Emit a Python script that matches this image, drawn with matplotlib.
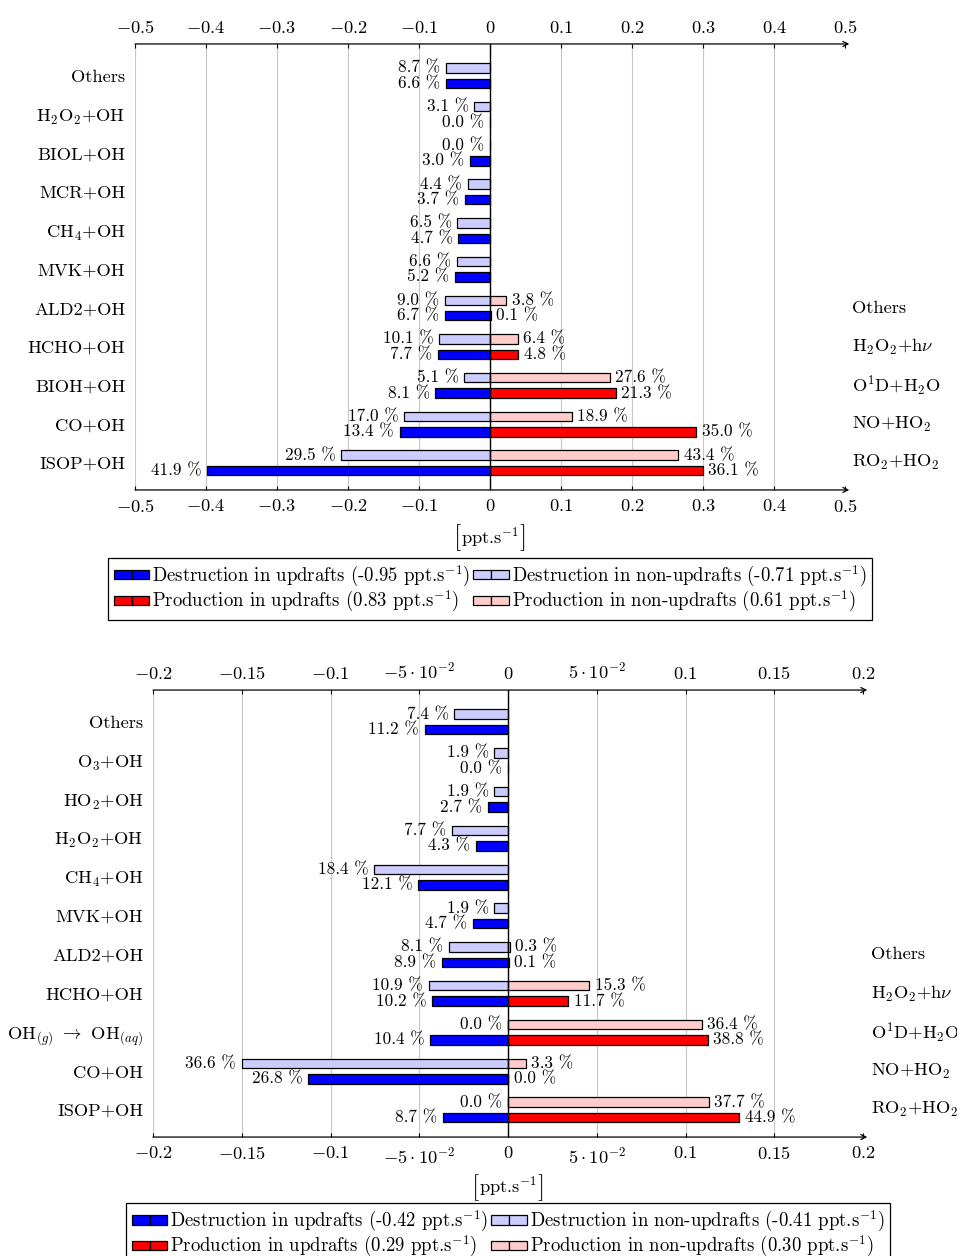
import numpy as np
import matplotlib.pyplot as plt
from matplotlib.patches import Rectangle
from matplotlib.legend_handler import HandlerTuple

plt.rcParams['font.family'] = ['cmr10', 'DejaVu Serif']
plt.rcParams['mathtext.fontset'] = 'cm'
plt.rcParams['font.size'] = 13.3

BLUE = '#0000ff'
LBLUE = '#ccccff'
RED = '#ff0000'
LRED = '#ffcccc'

# --- upper panel: OH budget, percentages of each total ---
top_loss_names = ['Others', 'H$_2$O$_2$+OH', 'BIOL+OH', 'MCR+OH', 'CH$_4$+OH',
                  'MVK+OH', 'ALD2+OH', 'HCHO+OH', 'BIOH+OH', 'CO+OH', 'ISOP+OH']
top_prod_names = ['Others', 'H$_2$O$_2$+h$\\nu$', 'O$^1$D+H$_2$O', 'NO+HO$_2$', 'RO$_2$+HO$_2$']
top_loss_non = [8.7, 3.1, 0.0, 4.4, 6.5, 6.6, 9.0, 10.1, 5.1, 17.0, 29.5]
top_loss_up = [6.6, 0.0, 3.0, 3.7, 4.7, 5.2, 6.7, 7.7, 8.1, 13.4, 41.9]
top_prod_non = [3.8, 6.4, 27.6, 18.9, 43.4]
top_prod_up = [0.1, 4.8, 21.3, 35.0, 36.1]
# totals: loss updrafts, loss non-updrafts, prod updrafts, prod non-updrafts
top_totals = [-0.95, -0.71, 0.83, 0.61]
top_ticks = [-0.5, -0.4, -0.3, -0.2, -0.1, 0, 0.1, 0.2, 0.3, 0.4, 0.5]
top_ticklabels = ['$-0.5$', '$-0.4$', '$-0.3$', '$-0.2$', '$-0.1$', '$0$',
                  '$0.1$', '$0.2$', '$0.3$', '$0.4$', '$0.5$']

# --- lower panel ---
bot_loss_names = ['Others', 'O$_3$+OH', 'HO$_2$+OH', 'H$_2$O$_2$+OH', 'CH$_4$+OH',
                  'MVK+OH', 'ALD2+OH', 'HCHO+OH',
                  'OH$_{(g)}$ $\\rightarrow$ OH$_{(aq)}$', 'CO+OH', 'ISOP+OH']
bot_prod_names = ['Others', 'H$_2$O$_2$+h$\\nu$', 'O$^1$D+H$_2$O', 'NO+HO$_2$', 'RO$_2$+HO$_2$']
bot_loss_non = [7.4, 1.9, 1.9, 7.7, 18.4, 1.9, 8.1, 10.9, 0.0, 36.6, 0.0]
bot_loss_up = [11.2, 0.0, 2.7, 4.3, 12.1, 4.7, 8.9, 10.2, 10.4, 26.8, 8.7]
bot_prod_non = [0.3, 15.3, 36.4, 3.3, 37.7]
bot_prod_up = [0.1, 11.7, 38.8, 0.0, 44.9]
bot_totals = [-0.42, -0.41, 0.29, 0.30]
bot_ticks = [-0.2, -0.15, -0.1, -0.05, 0, 0.05, 0.1, 0.15, 0.2]
bot_ticklabels = ['$-0.2$', '$-0.15$', '$-0.1$', '$-5\\cdot10^{-2}$', '$0$',
                  '$5\\cdot10^{-2}$', '$0.1$', '$0.15$', '$0.2$']


def panel(ax, loss_names, prod_names, loss_non, loss_up, prod_non, prod_up,
          totals, ticks, ticklabels, right_pad):
    n = len(loss_names)
    y = np.arange(n)
    yp = y[n - len(prod_names):]
    off, h = 0.2, 0.245

    series = [
        (y + off, np.array(loss_up), totals[0], BLUE, -1),
        (y - off, np.array(loss_non), totals[1], LBLUE, -1),
        (yp + off, np.array(prod_up), totals[2], RED, 1),
        (yp - off, np.array(prod_non), totals[3], LRED, 1),
    ]
    handles = []
    for pos, pct, tot, col, side in series:
        vals = pct / 100 * abs(tot) * side
        ax.barh(pos, vals, height=h, color=col, edgecolor='black', lw=0.9, zorder=2)
        for yy, v, p in zip(pos, vals, pct):
            ax.annotate(f'{p:.1f} %', (v, yy), xytext=(4 * side, 0),
                        textcoords='offset points', ha='left' if side > 0 else 'right',
                        va='center', fontsize=12.4)
        handles.append((Rectangle((0, 0), 1, 1, fc=col, ec='black', lw=0.9),
                        Rectangle((0, 0), 1, 1, fc=col, ec='black', lw=0.9)))

    lim = ticks[-1]
    ax.set_xlim(-lim, lim)
    ax.set_ylim(n - 1 + 0.70, -0.82)
    ax.set_xticks(ticks, ticklabels)
    ax.grid(axis='x', color='#c8c8c8', lw=0.8)
    ax.set_axisbelow(True)
    ax.axvline(0, color='black', lw=1.0, zorder=3)
    for s in ax.spines.values():
        s.set_visible(False)
    for yy in (0, 1):
        ax.annotate('', xy=(1.006, yy), xytext=(0, yy), xycoords='axes fraction',
                    arrowprops=dict(arrowstyle='->', lw=0.9, color='black',
                                    shrinkA=0, shrinkB=0, mutation_scale=9))
    ax.tick_params(axis='x', direction='in', top=True, bottom=True,
                   labeltop=True, labelbottom=True, length=3, width=0.8, pad=6)
    ax.set_yticks(y, loss_names)
    ax.tick_params(axis='y', length=0, pad=7)
    for yy, name in zip(yp, prod_names):
        ax.text(1 + right_pad, yy, name, transform=ax.get_yaxis_transform(),
                ha='left', va='center')

    return handles


fig = plt.figure(figsize=(9.57, 12.56), dpi=100)
ax1 = fig.add_axes([0.1411, 0.6099, 0.7419, 0.3551])
ax2 = fig.add_axes([0.1599, 0.0947, 0.7419, 0.3559])

for ax, data, ypos, rp, legy in [
    (ax1, (top_loss_names, top_prod_names, top_loss_non, top_loss_up, top_prod_non,
           top_prod_up, top_totals, top_ticks, top_ticklabels), -0.105, 0.010, -0.152),
    (ax2, (bot_loss_names, bot_prod_names, bot_loss_non, bot_loss_up, bot_prod_non,
           bot_prod_up, bot_totals, bot_ticks, bot_ticklabels), -0.110, 0.011, -0.148),
]:
    hs = panel(ax, *data, right_pad=rp)
    tot = data[6]
    labels = [
        f'Destruction in updrafts ({tot[0]:.2f} ppt.s$^{{-1}}$)',
        f'Production in updrafts ({tot[2]:.2f} ppt.s$^{{-1}}$)',
        f'Destruction in non-updrafts ({tot[1]:.2f} ppt.s$^{{-1}}$)',
        f'Production in non-updrafts ({tot[3]:.2f} ppt.s$^{{-1}}$)',
    ]
    # axis unit with tall brackets
    unit = ax.text(0.5, ypos, 'ppt.s$^{-1}$', transform=ax.transAxes,
                   ha='center', va='center')
    ax.annotate('[', xy=(0, 0.45), xycoords=unit, ha='right', va='center',
                fontsize=19)
    ax.annotate(']', xy=(1, 0.45), xycoords=unit, ha='left', va='center',
                fontsize=19)
    leg = ax.legend([hs[0], hs[2], hs[1], hs[3]], labels, ncol=2,
                    loc='upper center', bbox_to_anchor=(0.5, legy),
                    handler_map={tuple: HandlerTuple(ndivide=None, pad=0)},
                    handlelength=1.9, handleheight=0.4, handletextpad=0.15,
                    columnspacing=0.15, labelspacing=0.02, borderpad=0.3,
                    borderaxespad=0, fancybox=False, edgecolor='black',
                    framealpha=1, fontsize=13.5)
    leg.get_frame().set_linewidth(0.9)

fig.savefig('out.png', dpi=100)
